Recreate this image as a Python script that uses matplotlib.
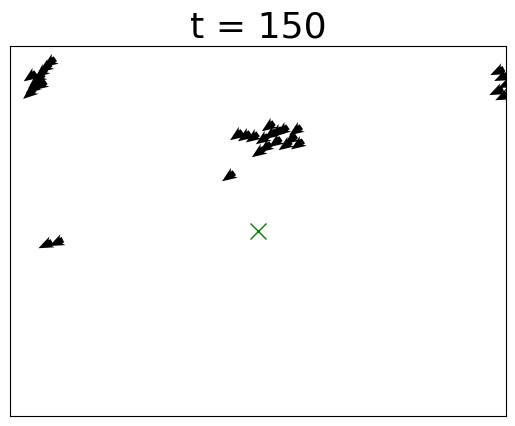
import numpy as np
import matplotlib
matplotlib.use("Agg")
import matplotlib.pyplot as plt

# boid positions (data units, box 0..100) and headings in degrees
xs = [7.9, 7.0, 6.2, 5.6, 4.8, 4.4, 3.8, 6.0, 4.0,
      98.2, 99.0, 98.0, 99.2, 99.8,
      45.6, 47.2, 52.0, 50.8, 52.4, 53.6, 54.8, 57.5, 56.5, 55.4, 57.9, 51.4, 50.0, 53.4, 48.8, 44.0,
      7.1, 9.3]
ys = [95.4, 94.0, 92.6, 91.2, 89.8, 88.4, 87.0, 89.2, 91.6,
      93.0, 91.4, 87.6, 86.2, 89.5,
      75.7, 75.4, 78.1, 74.6, 75.9, 76.5, 77.0, 77.0, 74.6, 73.0, 73.2, 72.4, 71.1, 73.8, 75.1, 64.6,
      46.2, 46.8]
headings = [215, 215, 220, 215, 220, 215, 220, 215, 215,
            205, 205, 205, 205, 205,
            215, 215, 215, 215, 215, 215, 215, 215, 215, 215, 215, 215, 215, 215, 215, 215,
            205, 205]
target = (50, 50)
step = 150

ang = np.radians(headings)
u = np.cos(ang)
v = np.sin(ang)

fig = plt.figure(figsize=(5.15, 4.26), dpi=100)
ax = fig.add_axes([0.0194, 0.0235, 0.9631, 0.8685])
ax.quiver(xs, ys, u, v, angles="uv", pivot="middle", units="dots",
          width=6, headwidth=2, headlength=2.5, headaxislength=2.1,
          scale_units="dots", scale=1 / 15, color="black")
ax.plot(target[0], target[1], "x", color="green", markersize=12)
ax.set_xlim(0, 100)
ax.set_ylim(0, 100)
ax.set_xticks([])
ax.set_yticks([])
ax.set_title(f"t = {step}", fontsize=26)

fig.savefig("out.png", dpi=100)
